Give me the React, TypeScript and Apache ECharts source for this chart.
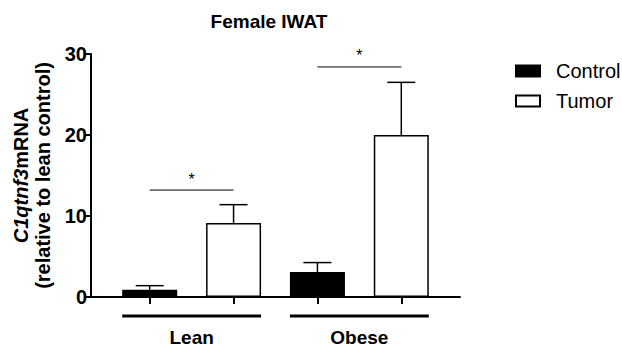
import React, { useEffect, useRef } from "react";
import * as echarts from "echarts";

const FONT = "Liberation Sans, Arial, Helvetica, sans-serif";

const groups = ["Lean", "Obese"];
const seriesNames = ["Control", "Tumor"];
// x positions: 0 = Lean Control, 1 = Lean Tumor, 2 = Obese Control, 3 = Obese Tumor
const controlMeans = [0.9, 3.1];
const controlUpper = [1.4, 4.25];
const tumorMeans = [9.15, 20.0];
const tumorUpper = [11.4, 26.5];
const sigY = [13.2, 28.4];

export default function App() {
  const ref = useRef<HTMLDivElement>(null);
  useEffect(() => {
    if (!ref.current) return;
    const chart = echarts.init(ref.current, undefined, { renderer: "svg" });
    const controlData = controlMeans.map((v, i) => [i * 2, v]);
    const tumorData = tumorMeans.map((v, i) => [i * 2 + 1, v]);
    const errData = [
      ...controlMeans.map((v, i) => [i * 2, v, controlUpper[i]]),
      ...tumorMeans.map((v, i) => [i * 2 + 1, v, tumorUpper[i]]),
    ];
    const sigData = sigY.map((y, i) => [i * 2, i * 2 + 1, y]);
    const groupData = groups.map((_, i) => [i * 2, i * 2 + 1]);
    const BAR_W = 55;
    chart.setOption({
      animation: false,
      title: {
        text: "Female IWAT",
        left: 264,
        top: 7,
        textAlign: "center",
        textStyle: { fontFamily: FONT, fontSize: 19, fontWeight: "bold", color: "#000" },
      },
      legend: {
        orient: "vertical",
        left: 515,
        top: 61,
        padding: 0,
        itemWidth: 24,
        itemHeight: 11,
        itemGap: 10,
        icon: "rect",
        data: seriesNames,
        textStyle: { fontFamily: FONT, fontSize: 20, color: "#000", padding: [0, 0, 0, 11] },
      },
      grid: { left: 91, right: 162, top: 54, bottom: 51 },
      xAxis: {
        type: "value",
        min: -0.7,
        max: 3.7,
        axisLine: { show: true, onZero: false, lineStyle: { color: "#000", width: 2 } },
        axisTick: { show: true, customValues: [0, 1, 2, 3], length: 7, lineStyle: { color: "#000", width: 2 } },
        axisLabel: { show: false },
        splitLine: { show: false },
      },
      yAxis: {
        type: "value",
        min: 0,
        max: 30,
        interval: 10,
        name: "{i|C1qtnf3}{b|mRNA}\n{b|(relative to lean control)}",
        nameLocation: "middle",
        nameRotate: 90,
        nameGap: 36,
        nameTextStyle: {
          fontFamily: FONT,
          fontSize: 20,
          fontWeight: "bold",
          color: "#000",
          lineHeight: 22,
          rich: {
            i: { fontFamily: FONT, fontSize: 20, fontWeight: "bold", fontStyle: "italic", color: "#000", lineHeight: 22 },
            b: { fontFamily: FONT, fontSize: 20, fontWeight: "bold", color: "#000", lineHeight: 22 },
          },
        },
        axisLine: { show: true, onZero: false, lineStyle: { color: "#000", width: 2 } },
        axisTick: { show: true, length: 6, lineStyle: { color: "#000", width: 2 } },
        axisLabel: {
          margin: 4,
          fontFamily: FONT,
          fontSize: 20,
          fontWeight: "bold",
          color: "#000",
        },
        splitLine: { show: false },
      },
      series: [
        {
          name: "Control",
          type: "bar",
          data: controlData,
          barWidth: BAR_W,
          barGap: "-100%",
          itemStyle: { color: "#000", borderColor: "#000", borderWidth: 1.5 },
          z: 2,
        },
        {
          name: "Tumor",
          type: "bar",
          data: tumorData,
          barWidth: BAR_W,
          barGap: "-100%",
          itemStyle: { color: "#fff", borderColor: "#000", borderWidth: 1.5 },
          z: 2,
        },
        {
          type: "custom",
          data: errData,
          clip: false,
          z: 3,
          encode: { x: 0, y: [1, 2] },
          renderItem: (params: any, api: any) => {
            const x = api.value(0);
            const p0 = api.coord([x, api.value(1)]);
            const p1 = api.coord([x, api.value(2)]);
            return {
              type: "group",
              children: [
                { type: "line", shape: { x1: p0[0], y1: p0[1], x2: p1[0], y2: p1[1] }, style: { stroke: "#000", lineWidth: 1.5 } },
                { type: "line", shape: { x1: p1[0] - 14, y1: p1[1], x2: p1[0] + 14, y2: p1[1] }, style: { stroke: "#000", lineWidth: 1.5 } },
              ],
            };
          },
        },
        {
          type: "custom",
          data: sigData,
          clip: false,
          z: 3,
          encode: { x: [0, 1], y: 2 },
          renderItem: (params: any, api: any) => {
            const a = api.coord([api.value(0), api.value(2)]);
            const b = api.coord([api.value(1), api.value(2)]);
            return {
              type: "group",
              children: [
                { type: "line", shape: { x1: a[0], y1: a[1], x2: b[0], y2: b[1] }, style: { stroke: "#000", lineWidth: 1 } },
                {
                  type: "text",
                  x: (a[0] + b[0]) / 2,
                  y: a[1] - 3,
                  style: { text: "*", fontFamily: FONT, fontSize: 16, fill: "#000", align: "center", verticalAlign: "bottom" },
                },
              ],
            };
          },
        },
        {
          type: "custom",
          data: groupData,
          clip: false,
          z: 3,
          encode: { x: [0, 1] },
          renderItem: (params: any, api: any) => {
            const a = api.coord([api.value(0), 0]);
            const b = api.coord([api.value(1), 0]);
            const y = a[1] + 19;
            return {
              type: "group",
              children: [
                { type: "line", shape: { x1: a[0] - BAR_W / 2, y1: y, x2: b[0] + BAR_W / 2, y2: y }, style: { stroke: "#000", lineWidth: 3 } },
                {
                  type: "text",
                  x: (a[0] + b[0]) / 2,
                  y: y + 21,
                  style: { text: groups[params.dataIndex], fontFamily: FONT, fontSize: 19, fontWeight: "bold", fill: "#000", align: "center", verticalAlign: "middle" },
                },
              ],
            };
          },
        },
      ],
    });
    return () => chart.dispose();
  }, []);
  return <div ref={ref} style={{ position: "absolute", left: 0, top: 0, width: 622, height: 348 }} />;
}
